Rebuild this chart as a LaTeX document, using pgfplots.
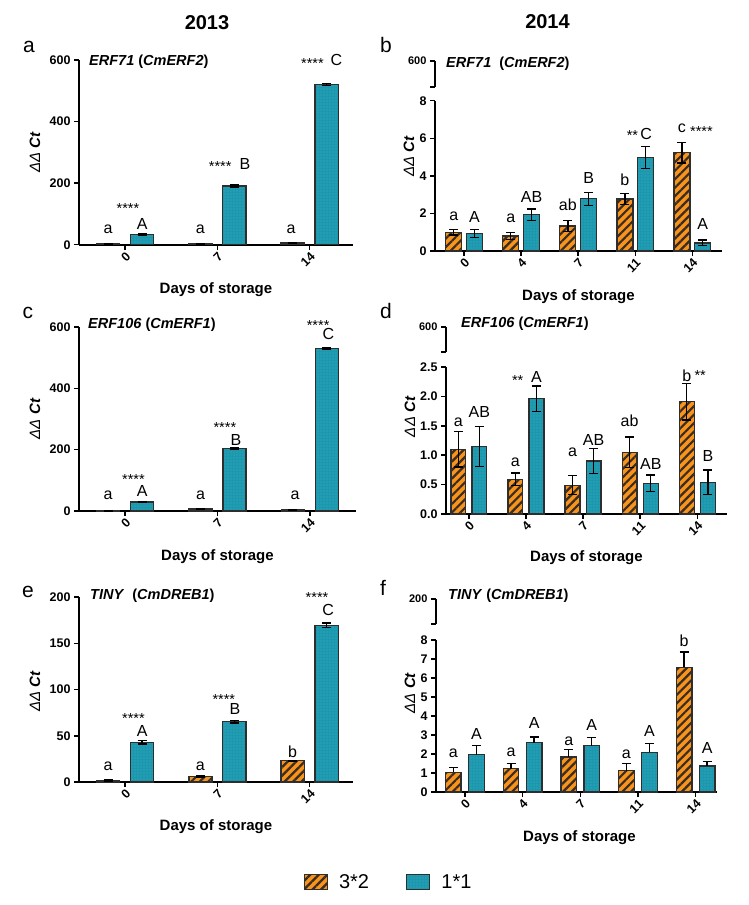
\documentclass[border=0pt]{standalone}
\usepackage{fontspec}
\setmainfont{Liberation Sans}
\usepackage{pgfplots}
\usepackage{pgfplotstable}
\pgfplotsset{compat=1.18}
\usetikzlibrary{patterns.meta}
\newcommand{\fs}[1]{\fontsize{#1}{#1}\selectfont}
\definecolor{orng}{HTML}{F7941D}
\definecolor{stripe}{HTML}{3A2C20}
\definecolor{tealc}{HTML}{1C98AE}
\definecolor{dotc}{HTML}{86CEDD}
\definecolor{edge}{HTML}{2E2E2E}

% ---- data: x = category index, y = mean, e = error
\pgfplotstableread{
x y e
0 2 0.5
1 2 0.5
2 6 1
}\aO
\pgfplotstableread{
x y e
0 33.5 2
1 191 3
2 521 3
}\aB
\pgfplotstableread{
x y e
0 1.00 0.15
1 0.80 0.20
2 1.33 0.30
3 2.77 0.30
4 5.23 0.55
}\bO
\pgfplotstableread{
x y e
0 0.93 0.22
1 1.93 0.30
2 2.78 0.35
3 4.98 0.58
4 0.43 0.15
}\bB
\pgfplotstableread{
x y e
0 1 0.5
1 6.5 1
2 3 0.5
}\cO
\pgfplotstableread{
x y e
0 29 2
1 203 3
2 531 3
}\cB
\pgfplotstableread{
x y e
0 1.10 0.30
1 0.59 0.11
2 0.49 0.16
3 1.05 0.26
4 1.91 0.31
}\dO
\pgfplotstableread{
x y e
0 1.15 0.34
1 1.96 0.22
2 0.90 0.21
3 0.52 0.14
4 0.54 0.21
}\dB
\pgfplotstableread{
x y e
0 1.5 0.5
1 5.8 0.5
2 23 0.5
}\eO
\pgfplotstableread{
x y e
0 42.9 2
1 65.2 1.5
2 169.4 2.5
}\eB
\pgfplotstableread{
x y e
0 1.04 0.26
1 1.23 0.28
2 1.85 0.38
3 1.12 0.37
4 6.56 0.80
}\fO
\pgfplotstableread{
x y e
0 1.97 0.49
1 2.60 0.30
2 2.44 0.42
3 2.09 0.46
4 1.37 0.25
}\fB

\pgfplotsset{
  panel/.style={
    scale only axis, clip=false,
    axis x line*=bottom, axis y line*=left,
    axis line style={line width=1.8pt, black},
    tick style={line width=1.5pt, black},
    major tick length=5pt, tick align=outside,
    tick label style={font=\bfseries\fs{12.5}},
    /pgf/number format/assume math mode=true,
    x tick label style={rotate=45, anchor=north east, inner sep=1pt},
    xlabel={Days of storage},
    xlabel style={font=\bfseries\fs{15}, at={(axis description cs:0.5,0)}, anchor=center},
    ylabel={{\itshape ΔΔ }{\bfseries\itshape Ct}},
    ylabel style={font=\fs{15}, anchor=center},
    ymin=0,
  },
  seg/.style={
    scale only axis, width=10pt, xmin=0, xmax=1, ymin=0, ymax=1, ytick={0,1},
    axis x line=none, axis y line*=left,
    axis line style={line width=1.8pt, black},
    tick style={line width=1.5pt, black},
    major tick length=5pt, tick align=outside,
    tick label style={font=\bfseries\fs{11}},
    /pgf/number format/assume math mode=true,
  },
  errs/.style={
    error bars/y dir=both, error bars/y explicit,
    error bars/error bar style={line width=1.4pt, black},
    error bars/error mark options={rotate=90, mark size=4.5pt, line width=1.4pt, black}},
  fillO/.style={ybar, bar width=#1, bar shift=0pt, fill=orng, draw=none, forget plot},
  fillB/.style={ybar, bar width=#1, bar shift=0pt, fill=tealc, draw=none, forget plot},
  patO/.style={ybar, bar width=#1, bar shift=0pt, draw=edge, line width=1.3pt,
    pattern={Lines[angle=45,distance=6pt,line width=2.2pt]}, pattern color=stripe, errs},
  patB/.style={ybar, bar width=#1, bar shift=0pt, draw=edge, line width=1.3pt,
    pattern={Dots[distance=3pt,radius=0.45pt]}, pattern color=dotc, errs},
  leg/.style={legend image code/.code={\fill[#1] (0pt,-7.5pt) rectangle (23pt,7.5pt);
      \draw[##1, line width=1.2pt] (0pt,-7.5pt) rectangle (23pt,7.5pt);}},
}
\tikzset{
  lab/.style={font=\fs{16}, inner sep=0pt, anchor=base},
  st/.style={font=\fs{14.5}, inner sep=0pt, anchor=base, yshift=-8.3pt},
  gene/.style={font=\bfseries\fs{14.5}, inner sep=0pt, anchor=base west},
  plet/.style={font=\fs{21}, inner sep=0pt, anchor=base},
}
\begin{document}
\begin{tikzpicture}
\useasboundingbox (0,0) rectangle (748pt,-905pt);
% titles and panel letters
\node[font=\bfseries\fs{20}] at (207pt,-22.5pt) {2013};
\node[font=\bfseries\fs{20}] at (547.5pt,-22pt) {2014};
\node[plet] at (29pt,-52pt) {a};
\node[plet] at (386pt,-52pt) {b};
\node[plet] at (28pt,-318pt) {c};
\node[plet] at (386pt,-318pt) {d};
\node[plet] at (28pt,-597pt) {e};
\node[plet] at (383pt,-595pt) {f};
% gene labels
\node[gene] at (89pt,-65pt) {\textit{ERF71} (\textit{CmERF2})};
\node[gene] at (446pt,-67pt) {\textit{ERF71}\ \ (\textit{CmERF2})};
\node[gene] at (88pt,-328pt) {\textit{ERF106} (\textit{CmERF1})};
\node[gene] at (461pt,-327pt) {\textit{ERF106} (\textit{CmERF1})};
\node[gene] at (90pt,-599pt) {\textit{TINY}\ \ (\textit{CmDREB1})};
\node[gene] at (448pt,-599pt) {\textit{TINY} (\textit{CmDREB1})};

% ---------------- panel a
\begin{axis}[panel, at={(79pt,-244.7pt)}, anchor=south west, width=274pt, height=184.7pt,
  xmin=-0.5, xmax=2.47, ymax=600, xtick={0,1,2}, xticklabels={0,7,14}, ytick={0,200,400,600},
  xlabel style={yshift=-45pt}, ylabel style={at={([xshift=-44pt]axis description cs:0,0.5)}}]
\addplot[fillO=0.25] table[x expr=\thisrow{x}-0.184, y=y] {\aO};
\addplot[patO=0.25] table[x expr=\thisrow{x}-0.184, y=y, y error=e] {\aO};
\addplot[fillB=0.25] table[x expr=\thisrow{x}+0.184, y=y] {\aB};
\addplot[patB=0.25] table[x expr=\thisrow{x}+0.184, y=y, y error=e] {\aB};
\node[lab] at (axis cs:-0.184,37) {a};
\node[lab] at (axis cs:0.184,50) {A};
\node[st] at (axis cs:0.03,129) {****};
\node[lab] at (axis cs:0.816,37) {a};
\node[st] at (axis cs:1.03,266) {****};
\node[lab] at (axis cs:1.30,243) {B};
\node[lab] at (axis cs:1.8,37) {a};
\node[st] at (axis cs:2.03,598) {****};
\node[lab] at (axis cs:2.29,583) {C};
\end{axis}

% ---------------- panel b
\begin{axis}[seg, at={(435pt,-87pt)}, anchor=south west, height=26pt, yticklabels={,600}]
\end{axis}
\begin{axis}[panel, at={(435pt,-251pt)}, anchor=south west, width=287pt, height=150.3pt,
  xmin=-0.51, xmax=4.52, ymax=8, xtick={0,1,2,3,4}, xticklabels={0,4,7,11,14}, ytick={0,2,4,6,8},
  xlabel style={yshift=-46pt}, ylabel style={at={([xshift=-26pt]axis description cs:0,0.63)}}]
\addplot[fillO=0.28] table[x expr=\thisrow{x}-0.182, y=y] {\bO};
\addplot[patO=0.28] table[x expr=\thisrow{x}-0.182, y=y, y error=e] {\bO};
\addplot[fillB=0.28] table[x expr=\thisrow{x}+0.182, y=y] {\bB};
\addplot[patB=0.28] table[x expr=\thisrow{x}+0.182, y=y, y error=e] {\bB};
\node[lab] at (axis cs:-0.182,1.65) {a};
\node[lab] at (axis cs:0.182,1.51) {A};
\node[lab] at (axis cs:0.818,1.51) {a};
\node[lab] at (axis cs:1.182,2.59) {AB};
\node[lab] at (axis cs:1.818,2.15) {ab};
\node[lab] at (axis cs:2.182,3.57) {B};
\node[lab] at (axis cs:2.818,3.48) {b};
\node[st] at (axis cs:2.95,6.35) {**};
\node[lab] at (axis cs:3.19,5.91) {C};
\node[lab] at (axis cs:3.818,6.3) {c};
\node[st] at (axis cs:4.16,6.53) {****};
\node[lab] at (axis cs:4.182,1.12) {A};
\end{axis}

% ---------------- panel c
\begin{axis}[panel, at={(79pt,-511pt)}, anchor=south west, width=277pt, height=184pt,
  xmin=-0.5, xmax=2.5, ymax=600, xtick={0,1,2}, xticklabels={0,7,14}, ytick={0,200,400,600},
  xlabel style={yshift=-46pt}, ylabel style={at={([xshift=-44pt]axis description cs:0,0.5)}}]
\addplot[fillO=0.25] table[x expr=\thisrow{x}-0.184, y=y] {\cO};
\addplot[patO=0.25] table[x expr=\thisrow{x}-0.184, y=y, y error=e] {\cO};
\addplot[fillB=0.25] table[x expr=\thisrow{x}+0.184, y=y] {\cB};
\addplot[patB=0.25] table[x expr=\thisrow{x}+0.184, y=y, y error=e] {\cB};
\node[lab] at (axis cs:-0.184,36) {a};
\node[lab] at (axis cs:0.184,47) {A};
\node[st] at (axis cs:0.09,115) {****};
\node[lab] at (axis cs:0.816,36) {a};
\node[st] at (axis cs:1.08,282) {****};
\node[lab] at (axis cs:1.2,215) {B};
\node[lab] at (axis cs:1.84,36) {a};
\node[st] at (axis cs:2.09,616) {****};
\node[lab] at (axis cs:2.2,560) {C};
\end{axis}

% ---------------- panel d
\begin{axis}[seg, at={(446pt,-352pt)}, anchor=south west, height=25pt, yticklabels={,600}]
\end{axis}
\begin{axis}[panel, at={(446pt,-514pt)}, anchor=south west, width=281pt, height=147pt,
  xmin=-0.4, xmax=4.52, ymax=2.5, xtick={0,1,2,3,4}, xticklabels={0,4,7,11,14}, ytick={0,0.5,1,1.5,2,2.5},
  yticklabel style={/pgf/number format/.cd, fixed, fixed zerofill, precision=1},
  xlabel style={yshift=-44pt}, ylabel style={at={([xshift=-36pt]axis description cs:0,0.66)}}]
\addplot[fillO=0.26] table[x expr=\thisrow{x}-0.185, y=y] {\dO};
\addplot[patO=0.26] table[x expr=\thisrow{x}-0.185, y=y, y error=e] {\dO};
\addplot[fillB=0.26] table[x expr=\thisrow{x}+0.185, y=y] {\dB};
\addplot[patB=0.26] table[x expr=\thisrow{x}+0.185, y=y, y error=e] {\dB};
\node[lab] at (axis cs:-0.185,1.49) {a};
\node[lab] at (axis cs:0.185,1.64) {AB};
\node[lab] at (axis cs:0.815,0.80) {a};
\node[st] at (axis cs:0.855,2.32) {**};
\node[lab] at (axis cs:1.185,2.23) {A};
\node[lab] at (axis cs:1.815,0.97) {a};
\node[lab] at (axis cs:2.185,1.17) {AB};
\node[lab] at (axis cs:2.815,1.48) {ab};
\node[lab] at (axis cs:3.185,0.76) {AB};
\node[lab] at (axis cs:3.815,2.25) {b};
\node[st] at (axis cs:4.05,2.42) {**};
\node[lab] at (axis cs:4.185,0.89) {B};
\end{axis}

% ---------------- panel e
\begin{axis}[panel, at={(79pt,-782pt)}, anchor=south west, width=274pt, height=185pt,
  xmin=-0.5, xmax=2.47, ymax=200, xtick={0,1,2}, xticklabels={0,7,14}, ytick={0,50,100,150,200},
  xlabel style={yshift=-45pt}, ylabel style={at={([xshift=-44pt]axis description cs:0,0.49)}},
  legend style={at={(axis description cs:1.13,-0.54)}, anchor=center, draw=none, fill=none,
    legend columns=2, font=\fs{20},
    /tikz/every odd column/.append style={column sep=9pt},
    /tikz/every even column/.append style={column sep=35pt}}]
\addplot[fillO=0.25] table[x expr=\thisrow{x}-0.184, y=y] {\eO};
\addplot[patO=0.25, leg=orng] table[x expr=\thisrow{x}-0.184, y=y, y error=e] {\eO};
\addlegendentry{3*2}
\addplot[fillB=0.25] table[x expr=\thisrow{x}+0.184, y=y] {\eB};
\addplot[patB=0.25, leg=tealc] table[x expr=\thisrow{x}+0.184, y=y, y error=e] {\eB};
\addlegendentry{1*1}
\node[lab] at (axis cs:-0.184,12.6) {a};
\node[lab] at (axis cs:0.184,48.7) {A};
\node[st] at (axis cs:0.09,72) {****};
\node[lab] at (axis cs:0.816,12.6) {a};
\node[lab] at (axis cs:1.19,73.5) {B};
\node[st] at (axis cs:1.07,92.6) {****};
\node[lab] at (axis cs:1.816,26.7) {b};
\node[lab] at (axis cs:2.2,180) {C};
\node[st] at (axis cs:2.08,202.5) {****};
\end{axis}

% ---------------- panel f
\begin{axis}[seg, at={(436pt,-624pt)}, anchor=south west, height=25pt, yticklabels={,200}]
\end{axis}
\begin{axis}[panel, at={(436pt,-792pt)}, anchor=south west, width=281pt, height=152pt,
  xmin=-0.5, xmax=4.37, ymax=8, xtick={0,1,2,3,4}, xticklabels={0,4,7,11,14}, ytick={0,1,...,8},
  xlabel style={yshift=-46pt, xshift=3pt}, ylabel style={at={([xshift=-26pt]axis description cs:0,0.65)}}]
\addplot[fillO=0.27] table[x expr=\thisrow{x}-0.2, y=y] {\fO};
\addplot[patO=0.27, error bars/y dir=plus] table[x expr=\thisrow{x}-0.2, y=y, y error=e] {\fO};
\addplot[fillB=0.27] table[x expr=\thisrow{x}+0.2, y=y] {\fB};
\addplot[patB=0.27, error bars/y dir=plus] table[x expr=\thisrow{x}+0.2, y=y, y error=e] {\fB};
\node[lab] at (axis cs:-0.2,1.81) {a};
\node[lab] at (axis cs:0.2,2.78) {A};
\node[lab] at (axis cs:0.8,1.85) {a};
\node[lab] at (axis cs:1.2,3.34) {A};
\node[lab] at (axis cs:1.8,2.43) {a};
\node[lab] at (axis cs:2.2,3.22) {A};
\node[lab] at (axis cs:2.8,1.76) {a};
\node[lab] at (axis cs:3.2,2.9) {A};
\node[lab] at (axis cs:3.8,7.65) {b};
\node[lab] at (axis cs:4.2,2.02) {A};
\end{axis}
\end{tikzpicture}
\end{document}
